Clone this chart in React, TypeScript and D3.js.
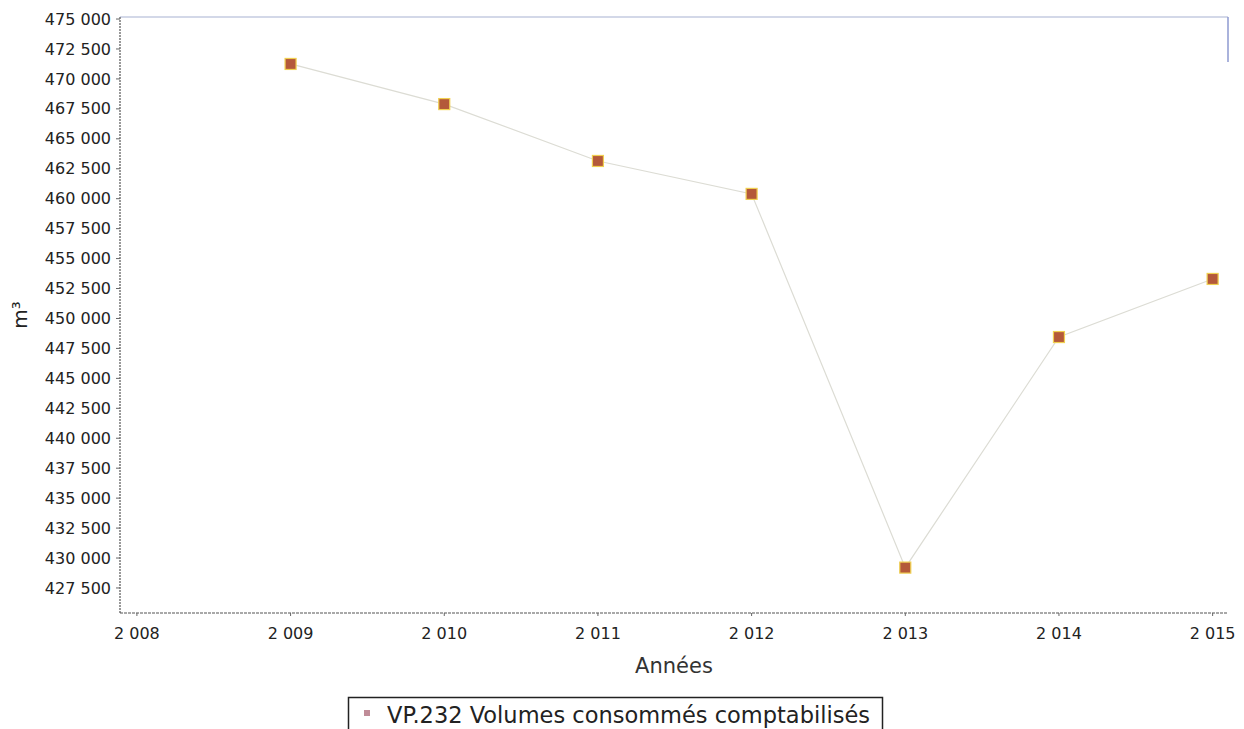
import * as d3 from 'd3';

const years = [2009, 2010, 2011, 2012, 2013, 2014, 2015];
const volumes = [471250, 467900, 463150, 460400, 429200, 448450, 453300];
const xTicks = [2008, 2009, 2010, 2011, 2012, 2013, 2014, 2015];
const yTicks = d3.range(427500, 475001, 2500);
const seriesName = 'VP.232 Volumes consommés comptabilisés';

const W = 1244;
const H = 729;
const PLOT = { left: 120, right: 1228, top: 17, bottom: 613 };
const FONT = '"DejaVu Sans", sans-serif';

const fmt = (v: number) => d3.format(',')(v).replace(/,/g, ' ');

export default function App() {
  const x = d3.scaleLinear().domain([2007.89, 2015.1]).range([PLOT.left, PLOT.right]);
  const y = d3.scaleLinear().domain([425410, 475170]).range([PLOT.bottom, PLOT.top]);

  const line = d3
    .line<number>()
    .x((_, i) => x(years[i]))
    .y((d) => y(d));

  return (
    <svg
      width={W}
      height={H}
      style={{ position: 'absolute', left: 0, top: 0, background: '#fff' }}
      fontFamily={FONT}
    >
      {/* plot frame */}
      <line x1={PLOT.left} x2={PLOT.right} y1={PLOT.top} y2={PLOT.top} stroke="#c4cbe0" strokeWidth={1.5} />
      <line x1={PLOT.right} x2={PLOT.right} y1={PLOT.top} y2={PLOT.top + 45} stroke="#8e9ad0" strokeWidth={1.5} />
      <line x1={PLOT.left} x2={PLOT.left} y1={PLOT.top} y2={PLOT.bottom} stroke="#555" strokeWidth={1.2} strokeDasharray="2,1" />
      <line x1={PLOT.left} x2={PLOT.right} y1={PLOT.bottom} y2={PLOT.bottom} stroke="#555" strokeWidth={1.2} strokeDasharray="3,1" />

      {/* y axis */}
      {yTicks.map((t) => (
        <g key={t}>
          <line x1={PLOT.left - 4} x2={PLOT.left} y1={y(t)} y2={y(t)} stroke="#666" />
          <text
            x={PLOT.left - 9}
            y={y(t)}
            dy="0.35em"
            textAnchor="end"
            fontSize={16}
            fill="#222"
          >
            {fmt(t)}
          </text>
        </g>
      ))}
      <text
        transform={`translate(20,${(PLOT.top + PLOT.bottom) / 2}) rotate(-90)`}
        textAnchor="middle"
        dy="0.35em"
        fontSize={20}
        fill="#222"
      >
        m³
      </text>

      {/* x axis */}
      {xTicks.map((t) => (
        <g key={t}>
          <line x1={x(t)} x2={x(t)} y1={PLOT.bottom} y2={PLOT.bottom + 3} stroke="#666" />
          <text x={x(t)} y={PLOT.bottom + 26} textAnchor="middle" fontSize={16} fill="#222">
            {fmt(t)}
          </text>
        </g>
      ))}
      <text x={674} y={673} textAnchor="middle" fontSize={21} fill="#333">
        Années
      </text>

      {/* series */}
      <path d={line(volumes) ?? ''} fill="none" stroke="#dcdcd4" strokeWidth={1.2} />
      {volumes.map((v, i) => (
        <rect
          key={years[i]}
          x={x(years[i]) - 5.5}
          y={y(v) - 5.5}
          width={11}
          height={11}
          fill="#b4593a"
          stroke="#f0cf50"
          strokeWidth={1.2}
        />
      ))}

      {/* legend */}
      <rect x={348.5} y={697.5} width={534} height={40} fill="#fff" stroke="#222" strokeWidth={1.5} />
      <rect x={364} y={710} width={6} height={6} fill="#c08c98" />
      <text x={387} y={723} fontSize={22.5} fill="#222">
        {seriesName}
      </text>
    </svg>
  );
}
